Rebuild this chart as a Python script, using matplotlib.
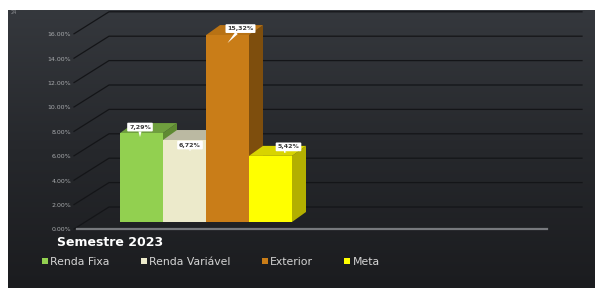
import matplotlib

matplotlib.use("Agg")
import matplotlib.pyplot as plt
import numpy as np
from matplotlib.colors import LinearSegmentedColormap
from matplotlib.patches import Patch, Polygon

# dados
categories = ["Renda Fixa", "Renda Variável", "Exterior", "Meta"]
values = [7.29, 6.72, 15.32, 5.42]
value_labels = ["7,29%", "6,72%", "15,32%", "5,42%"]
y_ticks = [0, 2, 4, 6, 8, 10, 12, 14, 16]
axis_title = "Semestre 2023"

# cores (frente / topo / lateral)
front_colors = ["#92d050", "#eceacb", "#c97d18", "#ffff00"]
top_colors = ["#6f9f3e", "#bbb9a2", "#b87214", "#d8d400"]
side_colors = ["#5f8a32", "#a9a78f", "#7e4e0d", "#b3af00"]

# layout em pixels
W, H = 595, 288
PX_X0 = 141.5   # centro da primeira barra
PX_BAR = 43.0   # largura de uma barra
PX_Y0 = 222.0   # base das barras
PX_PCT = 12.2   # pixels por 1%


def px_to_x(px):
    return (px - PX_X0) / PX_BAR


def py_to_y(py):
    return (PX_Y0 - py) / PX_PCT


# profundidade 3D
BAR_DX = 14 / PX_BAR
BAR_DY = 10 / PX_PCT
FRONT_DY = -7 / PX_PCT
BACK_DY = 15 / PX_PCT

# posição dos rótulos (caixa, ponta) em pixels, relativo ao topo da frente
label_box_offsets = [(-1.5, 6), (5.5, -5), (13, 6.5), (18, 9)]
label_tip_offsets = [(-1.5, -4), (5.5, -11), (0, -8), (13.5, 3)]

fig = plt.figure(figsize=(W / 100, H / 100), dpi=100)
fig.patch.set_facecolor("white")

# fundo escuro com gradiente
ax_bg = fig.add_axes([8 / W, 0, 1 - 8 / W, 1 - 10 / H])
bg_cmap = LinearSegmentedColormap.from_list("bg", ["#35383d", "#26282c", "#1b1c1f"])
ax_bg.imshow(np.linspace(0, 1, 256).reshape(-1, 1), cmap=bg_cmap, aspect="auto")
ax_bg.axis("off")

ax = fig.add_axes([0, 0, 1, 1])
ax.set_facecolor("none")
ax.set_xlim(px_to_x(0), px_to_x(W))
ax.set_ylim(py_to_y(H), py_to_y(0))
ax.axis("off")

# linhas de grade (parede do fundo + diagonais)
x_front = px_to_x(74)
x_back = px_to_x(109)
x_right = px_to_x(582)
for tick in y_ticks:
    y_front = tick + FRONT_DY
    y_back = tick + BACK_DY
    ax.plot([x_front, x_back, x_right], [y_front, y_back, y_back],
            color="#141518", linewidth=0.9, zorder=1)
    ax.text(px_to_x(71), y_front - 0.08, f"{tick:.2f}%", ha="right", va="center",
            fontsize=4.5, color="#a9abae", zorder=2)

# linha do eixo (borda da frente)
ax.plot([px_to_x(77), px_to_x(547)], [FRONT_DY, FRONT_DY],
        color="#77797d", linewidth=1.6, zorder=2)

# barras 3D
x_pos = np.arange(len(values))
bars = ax.bar(x_pos, values, width=1.0, color=front_colors, linewidth=0)
for i, (bar, value) in enumerate(zip(bars, values)):
    z = 3 + 3 * i
    left = x_pos[i] - 0.5
    right = x_pos[i] + 0.5
    side = Polygon([(right, 0), (right + BAR_DX, BAR_DY),
                    (right + BAR_DX, value + BAR_DY), (right, value)],
                   closed=True, facecolor=side_colors[i], linewidth=0, zorder=z)
    top = Polygon([(left, value), (right, value),
                   (right + BAR_DX, value + BAR_DY), (left + BAR_DX, value + BAR_DY)],
                  closed=True, facecolor=top_colors[i], linewidth=0, zorder=z + 1)
    ax.add_patch(side)
    ax.add_patch(top)
    bar.set_zorder(z + 2)

# rótulos de dados
for i, value in enumerate(values):
    bx, by = label_box_offsets[i]
    tx, ty = label_tip_offsets[i]
    ax.annotate(
        value_labels[i],
        xy=(x_pos[i] + tx / PX_BAR, value + ty / PX_PCT),
        xytext=(x_pos[i] + bx / PX_BAR, value + by / PX_PCT),
        ha="center", va="center", fontsize=4.5, fontweight="bold", color="#3a3a3a",
        bbox=dict(boxstyle="round,pad=0.3,rounding_size=0.15", fc="white", ec="none"),
        arrowprops=dict(arrowstyle="wedge,tail_width=0.5,shrink_factor=0.5",
                        fc="white", ec="none", shrinkA=0, shrinkB=0),
        zorder=20,
    )

# título do eixo e texto pequeno
fig.text(57 / W, 1 - 242 / H, axis_title, fontsize=9, fontweight="bold",
         color="white", va="center", ha="left")
fig.text(11 / W, 1 - 12 / H, "24", fontsize=3.5, color="#8a8c90", va="center")

# legenda
handles = [Patch(facecolor=c, edgecolor="none", label=name)
           for c, name in zip(front_colors, categories)]
fig.legend(handles=handles, loc="center left", bbox_to_anchor=(42 / W, 1 - 262 / H),
           ncol=4, frameon=False, fontsize=7.8, labelcolor="#d4d4d4",
           handlelength=0.55, handleheight=0.55, handletextpad=0.2,
           columnspacing=2.9, borderpad=0, borderaxespad=0)

fig.savefig("out.png", dpi=100)
plt.close(fig)
